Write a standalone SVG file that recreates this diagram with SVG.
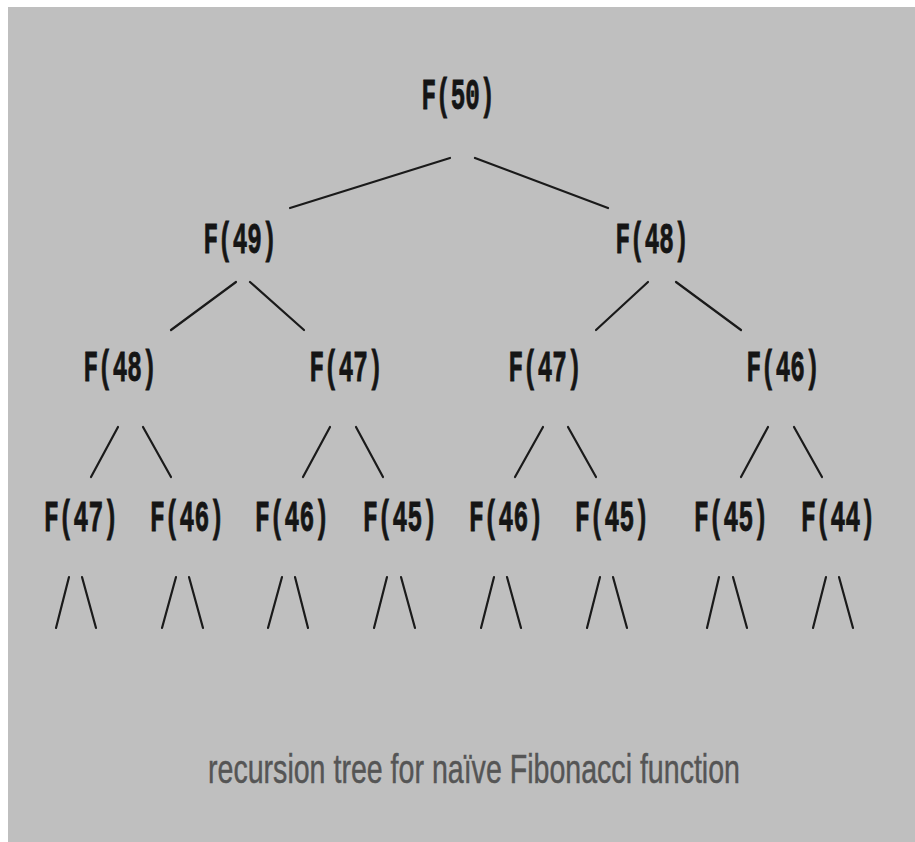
<svg xmlns="http://www.w3.org/2000/svg" width="915" height="842" viewBox="0 0 915 842">
<style>
.n{font-family:"Liberation Mono","Courier New",monospace;font-weight:bold;font-size:24.4px;fill:#151515;stroke:#151515;stroke-width:0.5;text-anchor:middle}
.c line{stroke:#1a1a1a;stroke-width:2.2;stroke-linecap:round}
.cap{font-family:"Comic Sans MS","Liberation Sans",sans-serif;font-size:27px;fill:#555;stroke:#555;stroke-width:0.3}
</style>
<rect x="0" y="0" width="915" height="842" fill="#ffffff"/>
<rect x="8" y="7" width="907" height="835" fill="#bfbfbf"/>
<g class="c" id="connectors">
<line x1="450" y1="158" x2="290" y2="208" stroke-width="2.6"/>
<line x1="475" y1="158" x2="608" y2="208" stroke-width="2.6"/>
<line x1="236" y1="282" x2="171" y2="330"/>
<line x1="250" y1="282" x2="304" y2="330"/>
<line x1="648" y1="282" x2="596" y2="330"/>
<line x1="676" y1="282" x2="741" y2="330"/>
<line x1="118" y1="427" x2="91" y2="477"/>
<line x1="143" y1="427" x2="171" y2="477"/>
<line x1="330" y1="427" x2="303" y2="477"/>
<line x1="356" y1="427" x2="383" y2="477"/>
<line x1="543" y1="427" x2="515" y2="477"/>
<line x1="568" y1="427" x2="596" y2="477"/>
<line x1="768" y1="427" x2="741" y2="477"/>
<line x1="794" y1="427" x2="822" y2="477"/>
<line x1="69" y1="577" x2="56" y2="628"/>
<line x1="82" y1="577" x2="96" y2="628"/>
<line x1="176" y1="577" x2="162" y2="628"/>
<line x1="189" y1="577" x2="203" y2="628"/>
<line x1="282" y1="577" x2="268" y2="628"/>
<line x1="295" y1="577" x2="308" y2="628"/>
<line x1="387" y1="577" x2="374" y2="628"/>
<line x1="401" y1="577" x2="415" y2="628"/>
<line x1="494" y1="577" x2="481" y2="628"/>
<line x1="507" y1="577" x2="521" y2="628"/>
<line x1="600" y1="577" x2="587" y2="628"/>
<line x1="613" y1="577" x2="627" y2="628"/>
<line x1="719" y1="577" x2="707" y2="628"/>
<line x1="733" y1="577" x2="747" y2="628"/>
<line x1="826" y1="577" x2="813" y2="628"/>
<line x1="839" y1="577" x2="853" y2="628"/>
</g>
<g id="f50" transform="translate(458,109) scale(1,1.8)"><text class="n" x="0" y="0" textLength="73" lengthAdjust="spacingAndGlyphs">F(50)</text></g>
<g id="f49" transform="translate(240,253) scale(1,1.8)"><text class="n" x="0" y="0" textLength="73" lengthAdjust="spacingAndGlyphs">F(49)</text></g>
<g id="f48a" transform="translate(652,253) scale(1,1.8)"><text class="n" x="0" y="0" textLength="73" lengthAdjust="spacingAndGlyphs">F(48)</text></g>
<g id="f48b" transform="translate(120,381) scale(1,1.8)"><text class="n" x="0" y="0" textLength="73" lengthAdjust="spacingAndGlyphs">F(48)</text></g>
<g id="f47a" transform="translate(346,381) scale(1,1.8)"><text class="n" x="0" y="0" textLength="73" lengthAdjust="spacingAndGlyphs">F(47)</text></g>
<g id="f47b" transform="translate(545,381) scale(1,1.8)"><text class="n" x="0" y="0" textLength="73" lengthAdjust="spacingAndGlyphs">F(47)</text></g>
<g id="f46a" transform="translate(783,381) scale(1,1.8)"><text class="n" x="0" y="0" textLength="73" lengthAdjust="spacingAndGlyphs">F(46)</text></g>
<g id="f47c" transform="translate(81,531) scale(1,1.8)"><text class="n" x="0" y="0" textLength="74" lengthAdjust="spacingAndGlyphs">F(47)</text></g>
<g id="f46b" transform="translate(187,531) scale(1,1.8)"><text class="n" x="0" y="0" textLength="74" lengthAdjust="spacingAndGlyphs">F(46)</text></g>
<g id="f46c" transform="translate(292,531) scale(1,1.8)"><text class="n" x="0" y="0" textLength="74" lengthAdjust="spacingAndGlyphs">F(46)</text></g>
<g id="f45a" transform="translate(400,531) scale(1,1.8)"><text class="n" x="0" y="0" textLength="74" lengthAdjust="spacingAndGlyphs">F(45)</text></g>
<g id="f46d" transform="translate(506,531) scale(1,1.8)"><text class="n" x="0" y="0" textLength="74" lengthAdjust="spacingAndGlyphs">F(46)</text></g>
<g id="f45b" transform="translate(612,531) scale(1,1.8)"><text class="n" x="0" y="0" textLength="74" lengthAdjust="spacingAndGlyphs">F(45)</text></g>
<g id="f45c" transform="translate(731,531) scale(1,1.8)"><text class="n" x="0" y="0" textLength="74" lengthAdjust="spacingAndGlyphs">F(45)</text></g>
<g id="f44" transform="translate(838,531) scale(1,1.8)"><text class="n" x="0" y="0" textLength="74" lengthAdjust="spacingAndGlyphs">F(44)</text></g>
<g id="caption" transform="translate(208,783) scale(1,1.48)"><text class="cap" x="0" y="0" textLength="532" lengthAdjust="spacingAndGlyphs">recursion tree for naïve Fibonacci function</text></g>
</svg>
